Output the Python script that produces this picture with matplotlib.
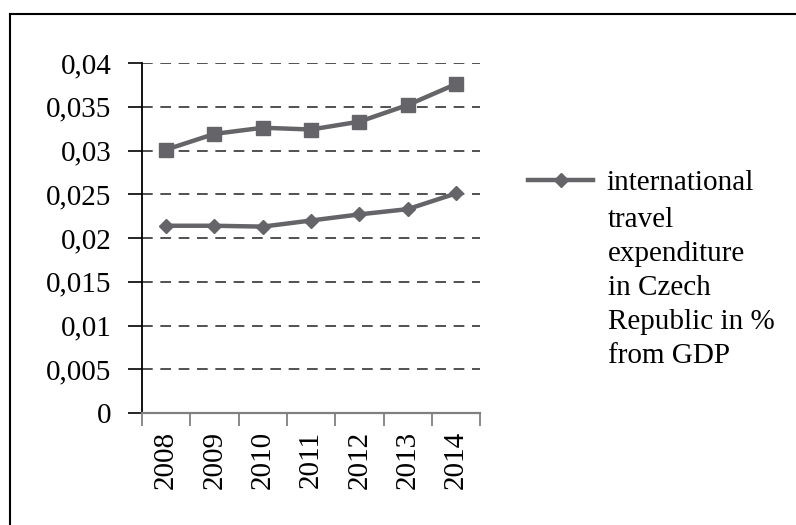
import matplotlib.pyplot as plt
from matplotlib.lines import Line2D
from matplotlib.ticker import FixedLocator, NullFormatter

plt.rcParams['font.family'] = ['Liberation Serif', 'DejaVu Serif']

years = ['2008', '2009', '2010', '2011', '2012', '2013', '2014']
# upper series (square markers, not in legend)
receipts = [0.0301, 0.0319, 0.0326, 0.0324, 0.0333, 0.0352, 0.0376]
# lower series (diamond markers)
expenditure = [0.0214, 0.0214, 0.0213, 0.0220, 0.0227, 0.0233, 0.0251]
y_ticks = [0, 0.005, 0.01, 0.015, 0.02, 0.025, 0.03, 0.035, 0.04]
y_labels = ['0', '0,005', '0,01', '0,015', '0,02', '0,025', '0,03', '0,035', '0,04']
legend_lines = ['international', 'travel', 'expenditure', 'in Czech',
                'Republic in %', 'from GDP']

col = '#646469'
fs = 21

fig = plt.figure(figsize=(7.96, 5.25), dpi=100)
ax = fig.add_axes([142/796, 1-413/525, (480.3-142)/796, 350/525])

x = list(range(len(years)))
ax.plot(x, receipts, color=col, lw=3.2, marker='s', ms=10, label='_nolegend_')
ax.plot(x, expenditure, color=col, lw=3.2, marker='D', ms=7.2, label=legend_lines[0])

ax.set_xlim(-0.5, len(years)-0.5)
ax.set_ylim(0, 0.04)
ax.set_yticks(y_ticks)
ax.set_yticklabels(y_labels, fontsize=fs)
ax.set_xticks(x)
ax.set_xticklabels(years, rotation=90, fontsize=fs)
ax.xaxis.set_minor_locator(FixedLocator([i-0.5 for i in range(len(years)+1)]))
ax.xaxis.set_minor_formatter(NullFormatter())
ax.tick_params(axis='x', which='major', length=0, pad=13)
ax.tick_params(axis='x', which='minor', length=9, width=1.3, color='#808080', direction='out')
ax.tick_params(axis='y', length=10, width=1.2, color='black', pad=12, direction='out')

ax.grid(axis='y', color='#222222', lw=1.1, linestyle=(0, (7, 5)))
ax.set_axisbelow(True)
for s in ['top', 'right']:
    ax.spines[s].set_visible(False)
ax.spines['left'].set_color('black')
ax.spines['left'].set_linewidth(1.3)
ax.spines['bottom'].set_color('#808080')
ax.spines['bottom'].set_linewidth(1.6)

leg = fig.legend(loc='center left', bbox_to_anchor=(528/796, 1-183/525),
                 frameon=False, fontsize=fs, borderpad=0, borderaxespad=0,
                 handlelength=65/fs/100*72, handletextpad=0.45)
for i, line in enumerate(legend_lines[1:]):
    fig.text(608/796, 1-(227+34*i)/525, line, fontsize=fs, va='baseline', ha='left')

# chart frame (only top and left edges visible in the crop)
fig.add_artist(Line2D([9.5/796, 9.5/796], [0, 1-14/525], color='black', lw=1.5))
fig.add_artist(Line2D([9.5/796, 1], [1-14/525, 1-14/525], color='black', lw=1.5))

fig.savefig('out.png', dpi=100)
